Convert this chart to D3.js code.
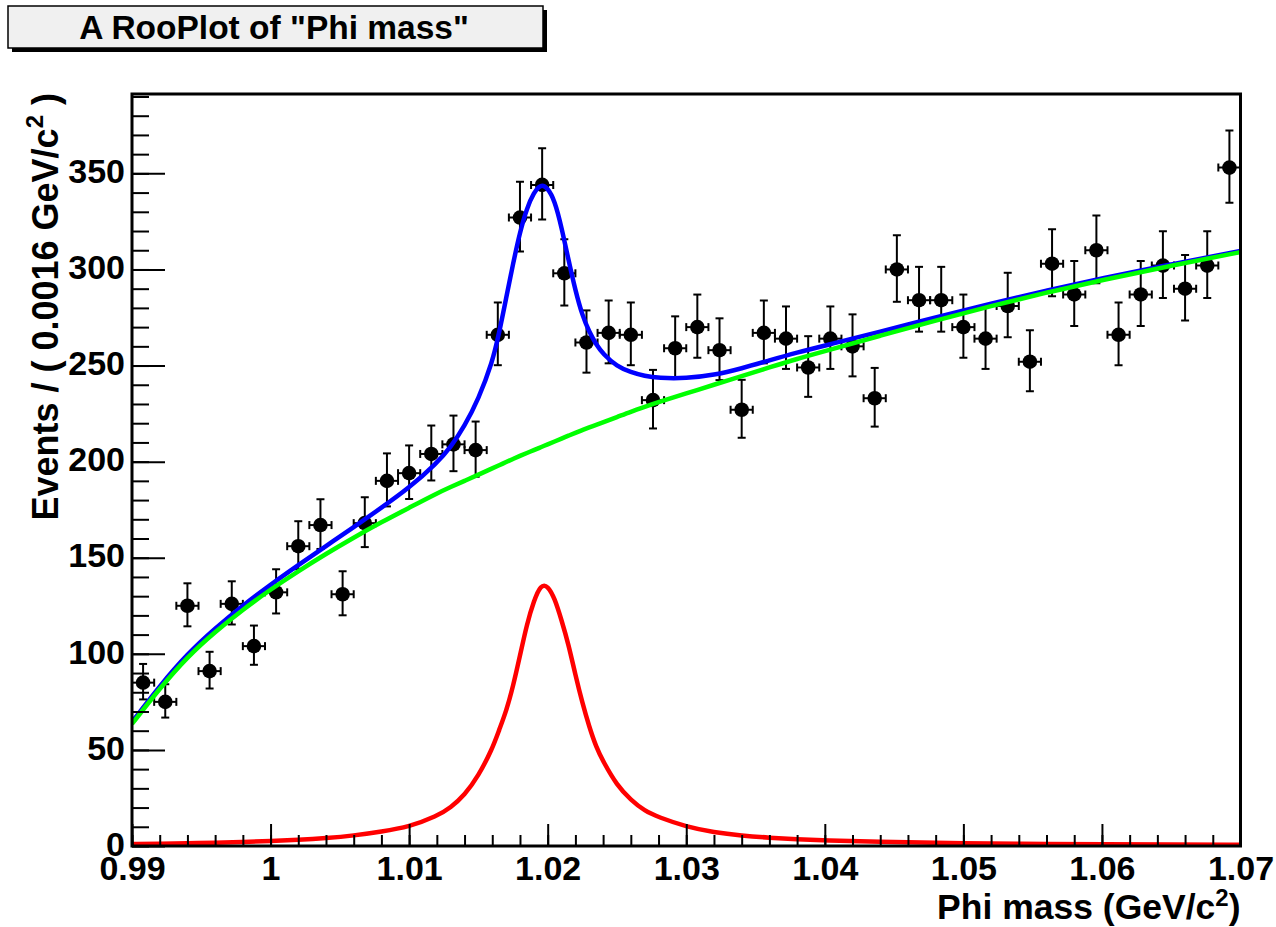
<!DOCTYPE html>
<html>
<head>
<meta charset="utf-8">
<script src="https://cdn.jsdelivr.net/npm/d3@7/dist/d3.min.js"></script>
<style>
body{margin:0;background:#fff;}
svg{display:block;font-family:"Liberation Sans",Arial,Helvetica,sans-serif;font-weight:bold;}
</style>
</head>
<body>
<svg id="chart"></svg>
<script>
// binned data : 50 bins of 0.0016 GeV/c2 from 0.99 to 1.07
var binStart = 0.99;
var binWidth = 0.0016;
var counts = [85,75,125,91,126,104,132,156,167,131,
              168,190,194,204,209,206,266,327,344,298,
              262,267,266,232,259,270,258,227,267,264,
              249,264,260,233,300,284,284,270,264,281,
              252,303,287,310,266,287,302,290,302,353];

// fitted curves at these masses
var curveX = [0.990,0.992,0.994,0.996,0.998,1.000,1.002,1.004,1.006,1.008,
              1.010,1.012,1.013,1.014,1.015,1.016,1.0165,1.017,1.0175,1.018,
              1.0185,1.019,1.0195,1.020,1.0205,1.021,1.0215,1.022,1.0225,1.023,
              1.0235,1.024,1.025,1.026,1.027,1.028,1.030,1.032,1.034,1.036,
              1.038,1.040,1.044,1.048,1.052,1.056,1.060,1.065,1.070];
var totalY = [64.5,83.3,100,113.3,125.2,136,146.2,156.1,165.9,176,
              186.3,199.3,207.5,218.5,232.5,251.5,267,285,303,319.5,
              332,340,344.5,342.5,336,322,305,289,276,267.5,
              261,256,249.5,246.5,244.5,243.5,243.3,245,248.5,252.7,
              256.8,260.4,267.6,275.1,282.3,289.1,295.4,302.7,309.6];
var bkgY   = [63.5,82,98.5,111.5,123,133.5,143,152,160.5,168.5,
              176,183.5,186.8,190,193.2,196.5,198.1,199.8,201.4,203,
              204.5,206,207.5,209,210.5,212,213.5,215,216.4,217.8,
              219.1,220.5,223.2,226,228.5,231,235.5,240,244.5,249,
              253.5,257.5,265.5,273.5,281,288,294.5,302,309];
var sigY   = [1.0,1.2,1.4,1.7,2.1,2.6,3.2,4.1,5.4,7.5,
              10,15.5,20,26.5,36.5,50.5,60.5,70,83,99,
              115.5,127.5,136,135.5,129,117.5,105,89,74.5,62,
              51.5,44,31.5,24,18.2,15,10,7.1,5.4,4.3,
              3.5,2.9,2.1,1.6,1.3,1.1,0.9,0.7,0.6];

// axis ticks
var xMajor = [0.99,1.00,1.01,1.02,1.03,1.04,1.05,1.06,1.07];
var yMajor = [0,50,100,150,200,250,300,350];

var titleText = 'A RooPlot of "Phi mass"';

/*********layout************/
var width = 1276, height = 927;
var frame = {left:132, right:1240.5, top:94, bottom:846};
var svg = d3.select('#chart').attr('width',width).attr('height',height);

var xScale = d3.scaleLinear().domain([0.99,1.07]).range([frame.left,frame.right]);
var yScale = d3.scaleLinear().domain([0,391.3]).range([frame.bottom,frame.top]);

svg.append('clipPath').attr('id','frameClip')
  .append('rect')
  .attr('x',frame.left).attr('y',frame.top)
  .attr('width',frame.right-frame.left).attr('height',frame.bottom-frame.top);

/*********title box************/
svg.append('rect').attr('x',12).attr('y',10).attr('width',535).attr('height',42).style('fill','#000');
svg.append('rect').attr('x',8).attr('y',6).attr('width',535).attr('height',42)
  .style('fill','#f0f0f0').style('stroke','#000').style('stroke-width',1.5);
svg.append('text').attr('x',274).attr('y',39).attr('text-anchor','middle')
  .style('font-size','33.5px').text(titleText);

/*********data points************/
var dataG = svg.append('g').attr('clip-path','url(#frameClip)');
var pts = counts.map(function(n,i){
  var c = binStart + binWidth*(i+0.5);
  // poisson interval approximation
  return {x:c, n:n, lo:n - Math.sqrt(n+0.25) + 0.5, hi:n + Math.sqrt(n+0.25) + 0.5};
});
var pg = dataG.selectAll('g.pt').data(pts).enter().append('g').attr('class','pt');
pg.append('line')
  .attr('x1',function(d){return xScale(d.x);}).attr('x2',function(d){return xScale(d.x);})
  .attr('y1',function(d){return yScale(d.lo);}).attr('y2',function(d){return yScale(d.hi);});
pg.append('line')
  .attr('x1',function(d){return xScale(d.x-binWidth/2);}).attr('x2',function(d){return xScale(d.x+binWidth/2);})
  .attr('y1',function(d){return yScale(d.n);}).attr('y2',function(d){return yScale(d.n);});
// caps
['lo','hi'].forEach(function(k){
  pg.append('line')
    .attr('x1',function(d){return xScale(d.x)-4;}).attr('x2',function(d){return xScale(d.x)+4;})
    .attr('y1',function(d){return yScale(d[k]);}).attr('y2',function(d){return yScale(d[k]);});
});
[-1,1].forEach(function(s){
  pg.append('line')
    .attr('x1',function(d){return xScale(d.x+s*binWidth/2);}).attr('x2',function(d){return xScale(d.x+s*binWidth/2);})
    .attr('y1',function(d){return yScale(d.n)-4;}).attr('y2',function(d){return yScale(d.n)+4;});
});
pg.selectAll('line').style('stroke','#000').style('stroke-width',2);
pg.append('circle')
  .attr('cx',function(d){return xScale(d.x);}).attr('cy',function(d){return yScale(d.n);})
  .attr('r',7.3).style('fill','#000');

/*********curves************/
function drawCurve(ys,color){
  var line = d3.line()
    .x(function(d,i){return xScale(curveX[i]);})
    .y(function(d){return yScale(d);})
    .curve(d3.curveBasis);
  dataG.append('path').datum(ys).attr('d',line)
    .style('fill','none').style('stroke',color).style('stroke-width',4.5)
    .style('stroke-linejoin','round');
}
drawCurve(totalY,'#0000ff');
drawCurve(bkgY,'#00ff00');
drawCurve(sigY,'#ff0000');

/*********axes************/
var axisG = svg.append('g');
var fmt = function(v){return String(+v.toFixed(2));};
var xMinor = d3.range(0,41).map(function(i){return 0.99+i*0.002;});
var yMinor = d3.range(0,40).map(function(i){return i*10;});

axisG.append('g').attr('transform','translate(0,'+frame.bottom+')')
  .call(d3.axisBottom(xScale).tickValues(xMinor).tickSize(-11).tickFormat(''));
axisG.append('g').attr('transform','translate(0,'+frame.bottom+')')
  .call(d3.axisBottom(xScale).tickValues(xMajor).tickSize(-22).tickPadding(10).tickFormat(fmt));
axisG.append('g').attr('transform','translate('+frame.left+',0)')
  .call(d3.axisLeft(yScale).tickValues(yMinor).tickSize(-17).tickFormat(''));
var yAx = axisG.append('g').attr('transform','translate('+frame.left+',0)')
  .call(d3.axisLeft(yScale).tickValues(yMajor).tickSize(-33).tickPadding(7).tickFormat(d3.format('d')));
yAx.selectAll('text').attr('dy','0.27em');
axisG.selectAll('.domain').remove();
axisG.selectAll('.tick line').style('stroke','#000').style('stroke-width',2);
axisG.selectAll('.tick text').style('font-size','34px').style('fill','#000')
  .style('font-family','"Liberation Sans",Arial,sans-serif').style('font-weight','bold');

// frame
svg.append('rect').attr('x',frame.left).attr('y',frame.top)
  .attr('width',frame.right-frame.left).attr('height',frame.bottom-frame.top)
  .style('fill','none').style('stroke','#000').style('stroke-width',3);

/*********axis titles************/
var xt = svg.append('text').attr('x',frame.right).attr('y',919).attr('text-anchor','end')
  .style('font-size','35.5px');
xt.append('tspan').text('Phi mass (GeV/c');
xt.append('tspan').attr('dy',-13).style('font-size','24px').text('2');
xt.append('tspan').attr('dy',13).text(')');

var yt = svg.append('text').attr('transform','translate(58,'+(frame.top-1)+') rotate(-90)')
  .attr('text-anchor','end').style('font-size','36px');
yt.append('tspan').text('Events / ( 0.0016 GeV/c');
yt.append('tspan').attr('dy',-15).style('font-size','24px').text('2');
yt.append('tspan').attr('dy',15).text(' )');
</script>
</body>
</html>
